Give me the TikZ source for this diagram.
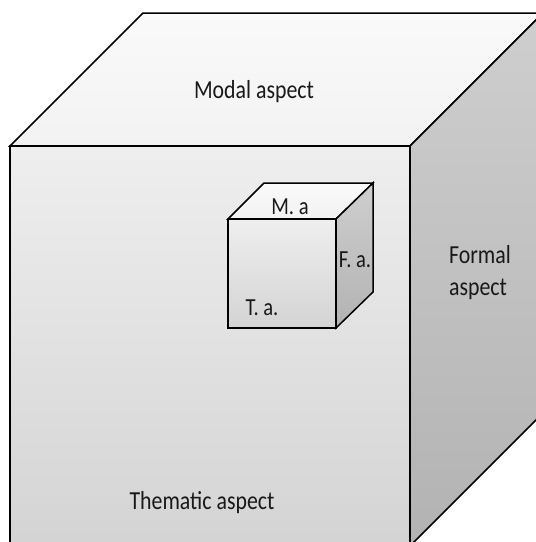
\documentclass[tikz,border=0pt]{standalone}
\usepackage{fontspec}
\setmainfont[FakeStretch=0.84]{Carlito}
\usepackage{xcolor}
\usetikzlibrary{positioning,calc}
\begin{document}
\begin{tikzpicture}[x=1pt, y=-1pt, face/.style={draw=black, line width=1.5pt, line join=miter}, topface/.style={face, top color=white!96!gray, bottom color=gray!10}, frontface/.style={face, top color=gray!13, bottom color=gray!34}, sideface/.style={face, top color=gray!38, bottom color=gray!60}, biglabel/.style={font=\fontsize{26}{32}\selectfont, text=black!90, align=left, inner sep=0pt}, smalllabel/.style={font=\fontsize{24.5}{28}\selectfont, text=black!90, inner sep=0pt}]
\useasboundingbox (0,0) rectangle (536,542);
\clip (0,0) rectangle (536,542);
% large cube
\path[topface]   (143,13) -- (543,13) -- (410,146) -- (10,146) -- cycle;
\path[frontface] (10,146) rectangle (410,546);
\path[sideface]  (410,146) -- (543,13) -- (543,413) -- (410,546) -- cycle;
% small cube
\path[topface]   (264,183) -- (373,183) -- (336,219) -- (228,219) -- cycle;
\path[frontface] (228,219) rectangle (336,328);
\path[sideface]  (336,219) -- (373,183) -- (373,292) -- (336,328) -- cycle;
\node[biglabel] (modal) at (254,92) {Modal aspect};
\node[biglabel] (formal) at (480,273) {Formal\\aspect};
\node[biglabel] (thematic) at (202,503) {Thematic aspect};
\node[smalllabel] (ma) at (290,207) {M. a};
\node[smalllabel] (fa) at (355,260) {F. a.};
\node[smalllabel] (ta) at (262,308) {T. a.};
\end{tikzpicture}
\end{document}
